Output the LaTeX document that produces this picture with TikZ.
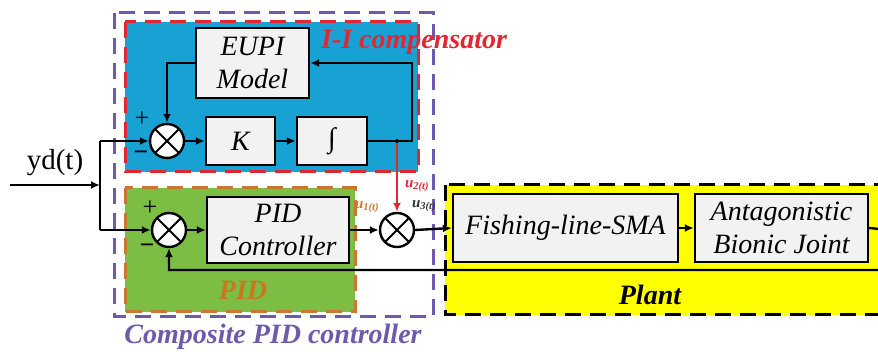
\documentclass[tikz,border=0pt]{standalone}
\usepackage{fontspec}
\setmainfont{Liberation Serif}[BoldFont={Liberation Serif Bold},ItalicFont={Liberation Serif Italic},BoldItalicFont={Liberation Serif Bold Italic}]
\usetikzlibrary{arrows.meta}
\definecolor{cblue}{RGB}{24,162,212}
\definecolor{cgreen}{RGB}{124,190,68}
\definecolor{cyel}{RGB}{255,255,0}
\definecolor{cred}{RGB}{224,40,50}
\definecolor{corange}{RGB}{200,120,50}
\definecolor{cpurple}{RGB}{110,90,170}
\definecolor{cbox}{RGB}{242,242,242}
\definecolor{cpid}{RGB}{200,120,30}
\tikzset{
  blk/.style={draw=black,line width=2.4pt,fill=cbox,inner sep=0pt,align=center,
    font=\fontsize{28}{33}\selectfont\itshape},
  sumnode/.style={circle,draw=black,line width=2.4pt,fill=white,minimum size=34pt,inner sep=0pt,
    path picture={\draw[line width=2pt] (path picture bounding box.south west)++(5pt,5pt) -- ([xshift=-5pt,yshift=-5pt]path picture bounding box.north east);
      \draw[line width=2pt] ([xshift=5pt,yshift=-5pt]path picture bounding box.north west) -- ([xshift=-5pt,yshift=5pt]path picture bounding box.south east);}},
  wire/.style={line width=2.4pt,-{Latex[length=9pt,width=8pt]}},
  wirenoarrow/.style={line width=2.4pt},
  region/.style={line width=3pt,dash pattern=on 16pt off 9pt},
  lbl/.style={font=\fontsize{28}{33}\selectfont\bfseries\itshape,inner sep=0pt},
  sgn/.style={font=\fontsize{26}{30}\selectfont,inner sep=0pt},
  ulbl/.style={font=\fontsize{15}{18}\selectfont\bfseries\itshape,inner sep=0pt}
}
\begin{document}
\begin{tikzpicture}[x=1pt,y=-1pt]
\useasboundingbox (0,0) rectangle (878,352);
\clip (0,0) rectangle (878,352);
% regions
\draw[region,draw=cpurple] (114,13) rectangle (433,317);
\draw[region,draw=cred,fill=cblue] (125,22) rectangle (418,172);
\draw[region,draw=corange,fill=cgreen] (125,188) rectangle (355,312);
\draw[region,draw=black,fill=cyel] (445,185) rectangle (900,315);
% blocks
\node[blk,minimum width=113pt,minimum height=70pt] (eupi) at (252.5,63) {EUPI\\Model};
\node[blk,minimum width=69pt,minimum height=48pt] (k) at (240.5,141) {K};
\node[blk,minimum width=70pt,minimum height=48pt] (int) at (332,141) {∫};
\node[sumnode] (s1) at (167,141) {};
\node[sumnode] (s2) at (169,230) {};
\node[sumnode] (s3) at (397,230) {};
\node[blk,minimum width=142pt,minimum height=66pt] (pid) at (278,230) {PID\\Controller};
\node[blk,minimum width=225pt,minimum height=68pt] (fls) at (565.5,228) {Fishing-line-SMA};
\node[blk,minimum width=173pt,minimum height=68pt] (abj) at (781.5,228) {Antagonistic\\Bionic Joint};
% coordinates
\coordinate (in) at (10,185);
\coordinate (j) at (100,185);
\coordinate (jt) at (100,141);
\coordinate (jb) at (100,230);
\coordinate (tap) at (397,141);
\coordinate (loopr) at (412,141);
\coordinate (outr) at (890,230);
% wires
\draw[wire] (in) -- (j);
\draw[wirenoarrow] (jt) -- (jb);
\draw[wire] (jt) -- (s1.west);
\draw[wire] (jb) -- (s2.west);
\draw[wire] (s1.east) -- (k.west);
\draw[wire] (k.east) -- (int.west);
\draw[wire] (int.east) -- (loopr) |- (eupi.east);
\draw[wire] (eupi.west) -| (s1.north);
\draw[wire,draw=cred,-{Latex[length=9pt,width=8pt,color=cred]}] (tap) -- (s3.north);
\fill (tap) circle (2pt);
\draw[wire] (s2.east) -- (pid.west);
\draw[wire] (pid.east) -- (s3.west);
\draw[wire] (s3.east) -- (fls.west);
\draw[wire] (fls.east) -- (abj.east -| abj.west);
\draw[wire] (abj.east) -- (outr) |- (885,270) -| (s2.south);
% signs
\node[sgn] (p1) at (142,119) {+};
\node[sgn] (m1) at (141,156) {\textbf{−}};
\node[sgn] (p2) at (150,208) {+};
\node[sgn] (m2) at (147,249) {\textbf{−}};
% u labels
\node[ulbl,text=corange] (u1) at (367,207) {u\textsubscript{1(t)}};
\node[ulbl,text=cred] (u2) at (417,186) {u\textsubscript{2(t)}};
\node[ulbl,text=black!80] (u3) at (424,206) {u\textsubscript{3(t)}};
% labels
\node[font=\fontsize{29}{33}\selectfont,inner sep=0pt] (yd) at (55,163) {yd(t)};
\node[lbl,text=cred] (iic) at (414,42) {I-I compensator};
\node[lbl,text=cpid] (pidl) at (243,290) {PID};
\node[lbl,text=black] (plant) at (650,295) {Plant};
\node[lbl,text=cpurple] (comp) at (273,337) {Composite PID controller};
\end{tikzpicture}
\end{document}
